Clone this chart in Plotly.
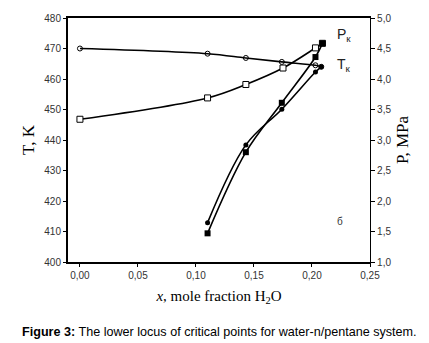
import plotly.graph_objects as go

# Open circles (T, left axis)
x_oc = [0.0, 0.11, 0.143, 0.174, 0.203, 0.208]
t_oc = [470.0, 468.3, 466.9, 465.6, 464.5, 464.0]
# Filled circles (Tk, left axis)
x_fc = [0.11, 0.143, 0.174, 0.203, 0.208]
t_fc = [412.9, 438.4, 450.1, 462.3, 464.0]
# Open squares (P, right axis)
x_os = [0.0, 0.11, 0.143, 0.175, 0.203, 0.209]
p_os = [3.34, 3.69, 3.91, 4.18, 4.51, 4.585]
# Filled squares (Pk, right axis)
x_fs = [0.11, 0.143, 0.174, 0.203, 0.209]
p_fs = [1.47, 2.80, 3.61, 4.36, 4.585]

x_ticks = [0.0, 0.05, 0.10, 0.15, 0.20, 0.25]
x_ticklabels = ["0,00", "0,05", "0,10", "0,15", "0,20", "0,25"]
y_ticks = [400, 410, 420, 430, 440, 450, 460, 470, 480]
y2_ticks = [1.0, 1.5, 2.0, 2.5, 3.0, 3.5, 4.0, 4.5, 5.0]
y2_ticklabels = ["1,0", "1,5", "2,0", "2,5", "3,0", "3,5", "4,0", "4,5", "5,0"]

fig = go.Figure()
line = dict(color="black", width=1.6, shape="spline", smoothing=1.0)

fig.add_trace(go.Scatter(x=x_oc, y=t_oc, mode="lines+markers", line=line,
                         marker=dict(symbol="circle-open", size=5, color="black", line=dict(width=1)),
                         yaxis="y", showlegend=False))
fig.add_trace(go.Scatter(x=x_os, y=p_os, mode="lines+markers", line=line,
                         marker=dict(symbol="square", size=6, color="white", line=dict(width=1, color="black")),
                         yaxis="y2", showlegend=False))
fig.add_trace(go.Scatter(x=x_fc, y=t_fc, mode="lines+markers", line=line,
                         marker=dict(symbol="circle", size=5, color="black"),
                         yaxis="y", showlegend=False))
fig.add_trace(go.Scatter(x=x_fs, y=p_fs, mode="lines+markers", line=line,
                         marker=dict(symbol="square", size=6, color="black"),
                         yaxis="y2", showlegend=False))

tickfont = dict(family="Liberation Sans, Arial", size=10, color="#333")
serif = "Liberation Serif, Times New Roman"

fig.update_layout(
    width=429, height=343,
    margin=dict(l=68, r=59, t=18, b=81),
    plot_bgcolor="white", paper_bgcolor="white",
    separators=", ",
    xaxis=dict(range=[-0.0103, 0.25], tickvals=x_ticks, ticktext=x_ticklabels,
               showgrid=False, zeroline=False, showline=True, linecolor="black", linewidth=2,
               mirror=True, ticks="outside", ticklen=3, tickcolor="black", tickwidth=1,
               tickfont=tickfont,
               title=dict(text="<i>x</i>, mole fraction H<sub>2</sub>O",
                          font=dict(family=serif, size=15, color="black"), standoff=10)),
    yaxis=dict(range=[400, 480], tickvals=y_ticks, showgrid=False, zeroline=False,
               showline=True, linecolor="black", linewidth=2, ticks="outside", ticklen=3,
               tickcolor="black", tickwidth=1, tickfont=tickfont,
               title=dict(text="T, K", font=dict(family=serif, size=17, color="black"), standoff=5)),
    yaxis2=dict(range=[1, 5], tickvals=y2_ticks, ticktext=y2_ticklabels, overlaying="y",
                side="right", showgrid=False, zeroline=False, showline=True, linecolor="black",
                linewidth=1.2, ticks="outside", ticklen=4, tickcolor="black", tickwidth=1,
                tickfont=tickfont,
                title=dict(text="P, MPa", font=dict(family=serif, size=17, color="black"), standoff=5)),
    annotations=[
        dict(x=0.2198, y=4.72, xref="x", yref="y2", text="P<sub>к</sub>", showarrow=False,
             xanchor="left", font=dict(family="Liberation Sans, Arial", size=14, color="#222")),
        dict(x=0.2198, y=4.23, xref="x", yref="y2", text="T<sub>к</sub>", showarrow=False,
             xanchor="left", font=dict(family="Liberation Sans, Arial", size=14, color="#222")),
        dict(x=0.2198, y=1.67, xref="x", yref="y2", text="б", showarrow=False,
             xanchor="left", font=dict(family="Liberation Sans, Arial", size=10, color="#333")),
        dict(x=0.5, y=0, xref="paper", yref="paper", yshift=-70, xanchor="center", yanchor="middle",
             text="<b>Figure 3:</b> The lower locus of critical points for water-n/pentane system.",
             showarrow=False, font=dict(family="Liberation Sans, Arial", size=12.6, color="black")),
    ],
)

fig.write_html("out.html", config={"displayModeBar": False},
               post_script="document.body.style.margin='0';document.body.style.padding='0';")
